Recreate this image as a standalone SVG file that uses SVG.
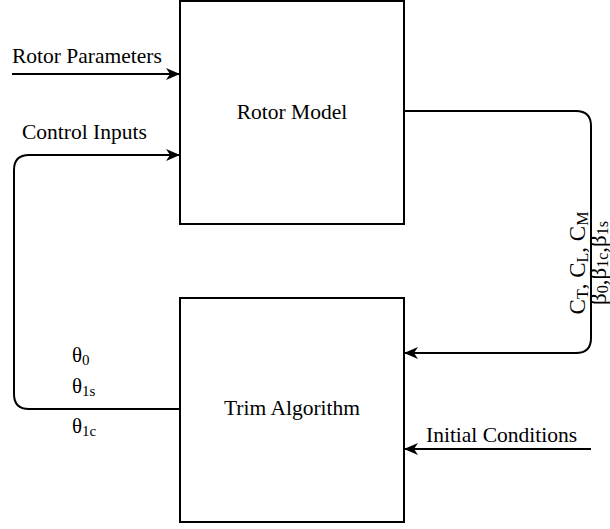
<svg xmlns="http://www.w3.org/2000/svg" width="610" height="529" viewBox="0 0 610 529">
<style>
.box{fill:#fff;stroke:#000;stroke-width:2}
.ln{fill:none;stroke:#000;stroke-width:2}
.t{font-family:'Liberation Serif','Times New Roman','DejaVu Serif',serif;fill:#000}
.lbl{font-size:21.5px}
.th{font-size:21px}
.rt{font-size:23px}
.sub{font-size:15px}
.rsub{font-size:16px}
</style>
<defs>
<marker id="arr" viewBox="0 0 14 12" refX="13" refY="6" markerWidth="14" markerHeight="12" markerUnits="userSpaceOnUse" orient="auto">
<path d="M0,0 L14,6 L0,12 L4,6 Z" fill="#000"/>
</marker>
</defs>
<rect width="610" height="529" fill="#fff"/>
<g id="connectors">
<path class="ln" d="M12,74 L179,74" marker-end="url(#arr)"/>
<path class="ln" d="M182,409 L29,409 Q14,409 14,394 L14,170 Q14,155 29,155 L179,155" marker-end="url(#arr)"/>
<path class="ln" d="M404,111 L576,111 Q591,111 591,126 L591,338 Q591,353 576,353 L405,353" marker-end="url(#arr)"/>
<path class="ln" d="M591,449 L405,449" marker-end="url(#arr)"/>
</g>
<g id="rotor-model">
<rect class="box" x="180" y="1" width="224" height="223"/>
<text class="t lbl" font-family="Liberation Serif, serif" x="292" y="119" text-anchor="middle">Rotor Model</text>
</g>
<g id="trim-algorithm">
<rect class="box" x="180" y="298" width="224" height="224"/>
<text class="t lbl" font-family="Liberation Serif, serif" x="292" y="415" text-anchor="middle">Trim Algorithm</text>
</g>
<g id="labels">
<text class="t lbl" font-family="Liberation Serif, serif" x="12" y="63">Rotor Parameters</text>
<text class="t lbl" font-family="Liberation Serif, serif" x="22" y="139">Control Inputs</text>
<text class="t lbl" font-family="Liberation Serif, serif" x="426" y="442">Initial Conditions</text>
<text class="t th" font-family="Liberation Serif, serif" x="72" y="362">θ<tspan class="sub" dy="3">0</tspan></text>
<text class="t th" font-family="Liberation Serif, serif" x="72" y="393">θ<tspan class="sub" dy="3">1s</tspan></text>
<text class="t th" font-family="Liberation Serif, serif" x="72" y="433">θ<tspan class="sub" dy="3">1c</tspan></text>
<text class="t rt" font-family="Liberation Serif, serif" transform="translate(585,263) rotate(-90)" text-anchor="middle">C<tspan class="rsub" dy="3">T</tspan><tspan dy="-3">, C</tspan><tspan class="rsub" dy="3">L</tspan><tspan dy="-3">, C</tspan><tspan class="rsub" dy="3">M</tspan></text>
<text class="t rt" font-family="Liberation Serif, serif" transform="translate(606,263) rotate(-90)" text-anchor="middle">β<tspan class="rsub" dy="2">0</tspan><tspan dy="-2">,β</tspan><tspan class="rsub" dy="2">1c</tspan><tspan dy="-2">,β</tspan><tspan class="rsub" dy="2">1s</tspan></text>
</g>
</svg>
